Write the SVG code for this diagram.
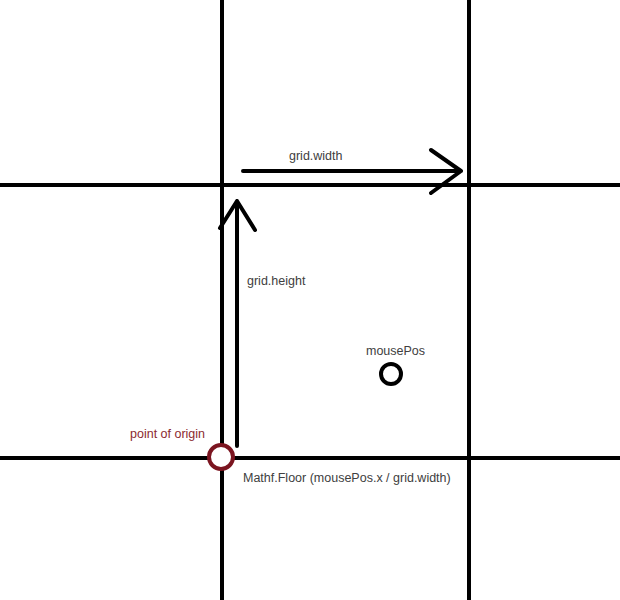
<svg xmlns="http://www.w3.org/2000/svg" width="620" height="600" viewBox="0 0 620 600">
<style>
.grid{stroke:#000;stroke-width:4;fill:none}
.arr{stroke:#000;stroke-width:4;fill:none;stroke-linecap:round;stroke-linejoin:round}
.lbl{font-family:"Liberation Sans",Arial,sans-serif;font-size:12.5px;fill:#404040}
.red{fill:#8b2a30}
</style>
<rect width="620" height="600" fill="#fff"/>
<g id="grid">
<line class="grid" x1="222" y1="0" x2="222" y2="600"/>
<line class="grid" x1="469" y1="0" x2="469" y2="600"/>
<line class="grid" x1="0" y1="185" x2="620" y2="185"/>
<line class="grid" x1="0" y1="458" x2="620" y2="458"/>
</g>
<g id="connectors">
<path class="arr" d="M243 171 H461 M431 150 L461 171 L431 193"/>
<path class="arr" d="M237 446 V201 M220 228 L237 201 L255 230"/>
</g>
<g id="origin">
<circle cx="221" cy="457" r="12" fill="#fff" stroke="#7b1520" stroke-width="4"/>
<text class="lbl red" x="130" y="438">point of origin</text>
</g>
<g id="mousePos">
<circle cx="391" cy="374" r="10" fill="#fff" stroke="#000" stroke-width="4"/>
<text class="lbl" x="366" y="355">mousePos</text>
</g>
<g id="labels">
<text class="lbl" x="289" y="160">grid.width</text>
<text class="lbl" x="247" y="285">grid.height</text>
<text class="lbl" x="243" y="482">Mathf.Floor (mousePos.x / grid.width)</text>
</g>
</svg>
